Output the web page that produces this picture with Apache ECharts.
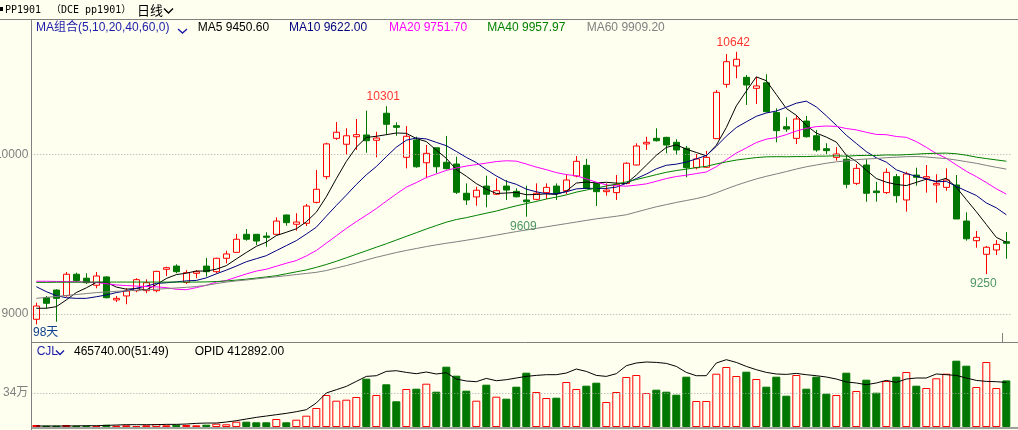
<!DOCTYPE html>
<html><head><meta charset="utf-8">
<script src="https://cdn.jsdelivr.net/npm/echarts@6/dist/echarts.min.js"></script>
<style>html,body{margin:0;padding:0;background:#fffff0;}#c{width:1018px;height:430px;}</style>
</head><body><div id="c"></div>
<script>
// ---------- data ----------
const opens = [8967,9102,9150,9115,9249,9224,9180,9232,9088,9113,
9146,9146,9146,9280,9300,9198,9255,9300,9265,9349,
9386,9499,9499,9488,9499,9620,9562,9568,9699,9860,
10100,10063,10110,10121,10088,10257,10179,9981,10090,9947,
10041,9950,9939,9756,9733,9801,9750,9801,9768,9714,
9718,9760,9801,9772,9864,9931,9818,9766,9760,9818,
9933,10065,10100,10106,10075,10038,9916,9919,10098,10438,
10553,10482,10413,10448,10261,10173,10100,10208,10116,10035,
9981,9969,9818,9933,9770,9760,9860,9714,9870,9850,
9808,9793,9808,9582,9459,9374,9401,9453];
const closes = [9050,9067,9098,9249,9209,9196,9238,9102,9098,9144,
9215,9196,9267,9290,9265,9259,9265,9265,9349,9376,
9468,9468,9457,9480,9582,9572,9576,9676,9781,10065,
10138,10116,10123,10085,10102,10188,10169,10113,9922,10006,
9922,9910,9762,9714,9775,9750,9772,9776,9734,9703,
9756,9793,9756,9839,9956,9787,9766,9776,9812,9944,
10052,10075,10085,10058,10027,9916,9971,9981,10388,10580,
10595,10434,10428,10267,10148,10158,10221,10110,10027,10023,
10002,9812,9912,9756,9760,9887,9741,9877,9856,9860,
9818,9839,9595,9471,9480,9418,9436,9443];
const lows = [8935,9036,8952,9108,9200,9188,9161,9098,9075,9061,
9136,9130,9136,9238,9255,9188,9224,9234,9255,9317,
9386,9459,9432,9421,9499,9553,9522,9551,9693,9843,
10090,9996,10027,10010,9981,10121,10116,9912,9916,9850,
9881,9905,9751,9683,9678,9668,9745,9714,9730,9609,
9712,9720,9714,9751,9856,9785,9676,9741,9714,9812,
9930,10027,10080,10006,9996,9856,9906,9915,10098,10417,
10476,10309,10315,10261,10075,10141,10064,10105,10016,10002,
9960,9787,9808,9703,9703,9751,9697,9641,9803,9760,
9697,9772,9595,9459,9415,9250,9369,9346];
const highs = [9071,9113,9155,9263,9259,9255,9263,9236,9113,9161,
9224,9217,9270,9296,9311,9275,9275,9351,9352,9396,
9501,9532,9500,9512,9605,9622,9631,9689,9902,10073,
10202,10163,10221,10273,10141,10301,10200,10177,10110,10058,
10041,10115,9985,9818,9797,9866,9850,9839,9787,9803,
9818,9818,9818,9877,9989,9972,9820,9818,9870,9950,
10069,10110,10163,10110,10094,10052,10002,10021,10403,10628,
10642,10497,10485,10501,10288,10232,10246,10240,10152,10069,
10044,9996,9939,9969,9828,9912,9877,9891,9916,9933,
9875,9912,9870,9637,9520,9426,9463,9513];
const volumes = [20000,13000,13000,20000,13000,13000,10000,22000,13000,17000,
10000,17000,30000,17000,23000,20000,17000,23000,33000,27000,
53000,53000,47000,47000,80000,47000,73000,113000,190000,320000,
263000,273000,300000,483000,320000,427000,257000,380000,383000,433000,
353000,603000,513000,363000,263000,423000,303000,283000,403000,543000,
350000,290000,293000,450000,380000,413000,443000,250000,350000,500000,
520000,340000,373000,353000,323000,503000,260000,260000,533000,600000,
510000,553000,480000,403000,503000,313000,520000,383000,503000,333000,
320000,543000,360000,473000,343000,460000,503000,550000,413000,390000,
487000,533000,663000,613000,400000,650000,390000,465740];
const openInterest = [9300,9300,9300,9300,10500,12000,12000,15100,18200,21300,
21300,21300,21300,24400,24400,27500,33600,36700,36700,46000,
58300,73800,89200,101500,113900,126200,141600,160200,222200,314800,
345300,375900,422200,468500,474900,514800,521200,505500,493500,509200,
490700,502700,444400,425900,419400,449900,428600,437900,453600,468500,
477700,484200,484200,499600,536700,514800,477700,468500,493500,567500,
592500,601800,598100,588800,561000,505500,474900,475000,592500,623100,
598100,561000,530500,505500,490700,487000,496200,484200,474900,462900,
444400,416600,407400,391600,407400,431400,412900,444400,453600,453600,
490700,484200,477700,453600,431400,422200,419400,412892];
// MA values before enough visible history exists
const ma5Head = [9036,9036,9046,9088];
const ma10Head = [9171,9140,9115,9102,9098,9098,9108,9119,9134];
const ma20Head = [9205,9205,9204,9203,9202,9200,9197,9190,9182,9178,9175,9172,9170,9165,9155,9152,9165,9180,9200];
const ma40Head = [9198,9198,9199,9199,9199,9200,9200,9200,9200,9200,9200,9200,9200,9200,9200,9200,9200,
9201,9203,9207,9212,9218,9225,9232,9240,9252,9264,9276,9292,9310,9330,9352,9374,9396,9418,9440,9463,9486,9509];
const ma60Head = [9098,9104,9110,9116,9122,9128,9134,9138,9142,9145,
9148,9151,9155,9159,9163,9167,9172,9180,9190,9200,
9207,9213,9220,9227,9233,9240,9247,9254,9261,9272,
9288,9303,9320,9338,9355,9370,9385,9398,9410,9422,
9433,9443,9452,9462,9472,9483,9494,9505,9516,9526,
9536,9546,9556,9566,9576,9586,9596,9604,9612];
const peakIdx = [35, 70];
const troughIdx = [49, 95];
const priceTicks = [9000, 10000];
const volTicks = [340000];
const volTickLabels = ['34万'];
const categories = closes.map((_, i) => String(i + 1));

// ---------- build ----------
function maLine(n, head) {
  return closes.map((c, i) => {
    if (i < n - 1) return head[i];
    let s = 0; for (let k = i - n + 1; k <= i; k++) s += closes[k];
    return +(s / n).toFixed(2);
  });
}
const BG = '#fffff0', RED = '#ff0000', GRN = '#007700';
const chart = echarts.init(document.getElementById('c'), null, {renderer: 'canvas'});
const kData = opens.map((o, i) => [o, closes[i], lows[i], highs[i]]);
const volData = volumes.map((v, i) => {
  const up = closes[i] >= opens[i];
  return {value: v, itemStyle: up ? {color: BG, borderColor: RED, borderWidth: 1} : {color: GRN, borderColor: GRN, borderWidth: 1}};
});
const lineS = (name, data, color, xi, yi) => ({
  name, type: 'line', data, xAxisIndex: xi, yAxisIndex: yi, symbol: 'none', silent: true,
  lineStyle: {color, width: 1}, z: 5
});
const F = '"Liberation Sans","Noto Sans CJK SC",sans-serif';
const txt = (text, x, y, fill, font) => ({type: 'text', silent: true, z: 10,
  style: {text, x, y, fill, font: font || ('12px ' + F), textVerticalAlign: 'middle', verticalAlign: 'middle'}});
const ln = (x1, y1, x2, y2, stroke, w) => ({type: 'line', silent: true, z: 10,
  shape: {x1, y1, x2, y2}, style: {stroke, lineWidth: w || 1}});
const chev = (pts, stroke) => ({type: 'polyline', silent: true, z: 10, shape: {points: pts}, style: {stroke, fill: null, lineWidth: 1.4}});

const option = {
  backgroundColor: BG,
  animation: false,
  grid: [
    {left: 31.3, top: 19, width: 980, height: 323, containLabel: false, outerBoundsMode: 'none'},
    {left: 31.3, top: 343, width: 980, height: 84, containLabel: false, outerBoundsMode: 'none'}
  ],
  xAxis: [0, 1].map(g => ({
    type: 'category', gridIndex: g, data: categories, boundaryGap: true,
    axisLine: {show: false}, axisTick: {show: false}, axisLabel: {show: false}, splitLine: {show: false}
  })),
  yAxis: [
    {gridIndex: 0, min: 8824.7, max: 10847.2, axisLine: {show: false}, axisTick: {show: false}, splitLine: {show: false},
     axisLabel: {customValues: priceTicks, color: '#808080', fontSize: 12, fontFamily: 'Liberation Sans', margin: 3,
       formatter: v => String(v)}},
    {gridIndex: 1, min: 0, max: 840000, axisLine: {show: false}, axisTick: {show: false}, splitLine: {show: false},
     axisLabel: {customValues: volTicks, color: '#808080', fontSize: 12, fontFamily: F, margin: 3,
       formatter: v => volTickLabels[volTicks.indexOf(v)] || ''}},
    {gridIndex: 1, min: 0, max: 777700, show: false}
  ],
  series: [
    {type: 'candlestick', data: kData, xAxisIndex: 0, yAxisIndex: 0, barWidth: 7, silent: true,
     itemStyle: {color: BG, color0: GRN, borderColor: RED, borderColor0: GRN, borderWidth: 1},
     markLine: {silent: true, symbol: ['none', 'none'], label: {show: false},
       lineStyle: {color: '#a8a8a8', width: 1, type: [1, 2]}, data: priceTicks.map(v => ({yAxis: v}))}},
    lineS('MA5', maLine(5, ma5Head), '#000000', 0, 0),
    lineS('MA10', maLine(10, ma10Head), '#000080', 0, 0),
    lineS('MA20', maLine(20, ma20Head), '#ff00ff', 0, 0),
    lineS('MA40', maLine(40, ma40Head), '#008000', 0, 0),
    lineS('MA60', maLine(60, ma60Head), '#808080', 0, 0),
    {type: 'scatter', xAxisIndex: 0, yAxisIndex: 0, symbolSize: 1, silent: true, z: 6,
     itemStyle: {color: 'rgba(0,0,0,0)'}, data: peakIdx.map(i => [i, highs[i]]),
     label: {show: true, position: 'top', distance: 3, offset: [-3, 0], color: RED, fontSize: 12, fontFamily: 'Liberation Sans',
       formatter: p => String(p.value[1])}},
    {type: 'scatter', xAxisIndex: 0, yAxisIndex: 0, symbolSize: 1, silent: true, z: 6,
     itemStyle: {color: 'rgba(0,0,0,0)'}, data: troughIdx.map(i => [i, lows[i]]),
     label: {show: true, position: 'bottom', distance: 3, offset: [-3, 0], color: '#1f7a3f', fontSize: 12, fontFamily: 'Liberation Sans',
       formatter: p => String(p.value[1])}},
    {type: 'bar', data: volData, xAxisIndex: 1, yAxisIndex: 1, barWidth: 8, silent: true,
     markLine: {silent: true, symbol: ['none', 'none'], label: {show: false},
       lineStyle: {color: '#a8a8a8', width: 1, type: [1, 2]}, data: volTicks.map(v => ({yAxis: v}))}},
    lineS('OPID', openInterest, '#000000', 1, 2)
  ],
  graphic: [
    {type: 'rect', silent: true, shape: {x: 0, y: 7, width: 3, height: 4}, style: {fill: '#000'}},
    txt('PP1901', 5, 10, '#000', '10px "DejaVu Sans Mono","Noto Sans CJK SC",monospace'),
    txt('（DCE pp1901）', 51, 10, '#000', '10px "DejaVu Sans Mono","Noto Sans CJK SC",monospace'),
    txt('日线', 137, 10, '#000', '13px "Noto Sans CJK SC",sans-serif'),
    chev([[164, 8.5], [168.5, 13], [173, 8.5]], '#000'),
    ln(0, 19.5, 1018, 19.5, '#808080'),
    ln(31.5, 19, 31.5, 430, '#808080'),
    ln(31, 342.5, 1018, 342.5, '#808080'),
    ln(31, 428, 1018, 428, '#808080', 1.5),
    ln(1002.5, 333, 1002.5, 342, '#808080'),
    txt('MA组合(5,10,20,40,60,0)', 36, 28, '#1c1ca8'),
    chev([[178, 29], [182.5, 33], [187, 29]], '#1c1ca8'),
    txt('MA5 9450.60', 197.7, 28, '#000000'),
    txt('MA10 9622.00', 289, 28, '#000080'),
    txt('MA20 9751.70', 389, 28, '#ff00ff'),
    txt('MA40 9957.97', 487.3, 28, '#008000'),
    txt('MA60 9909.20', 586.7, 28, '#808080'),
    txt('98天', 33, 332.5, '#10408f'),
    txt('CJL', 36.7, 352, '#1c1ca8'),
    chev([[56, 350.5], [60, 354.5], [64, 350.5]], '#1c1ca8'),
    txt('465740.00(51:49)', 74, 352, '#000'),
    txt('OPID 412892.00', 194.7, 352, '#000')
  ]
};
chart.setOption(option);
</script></body></html>
